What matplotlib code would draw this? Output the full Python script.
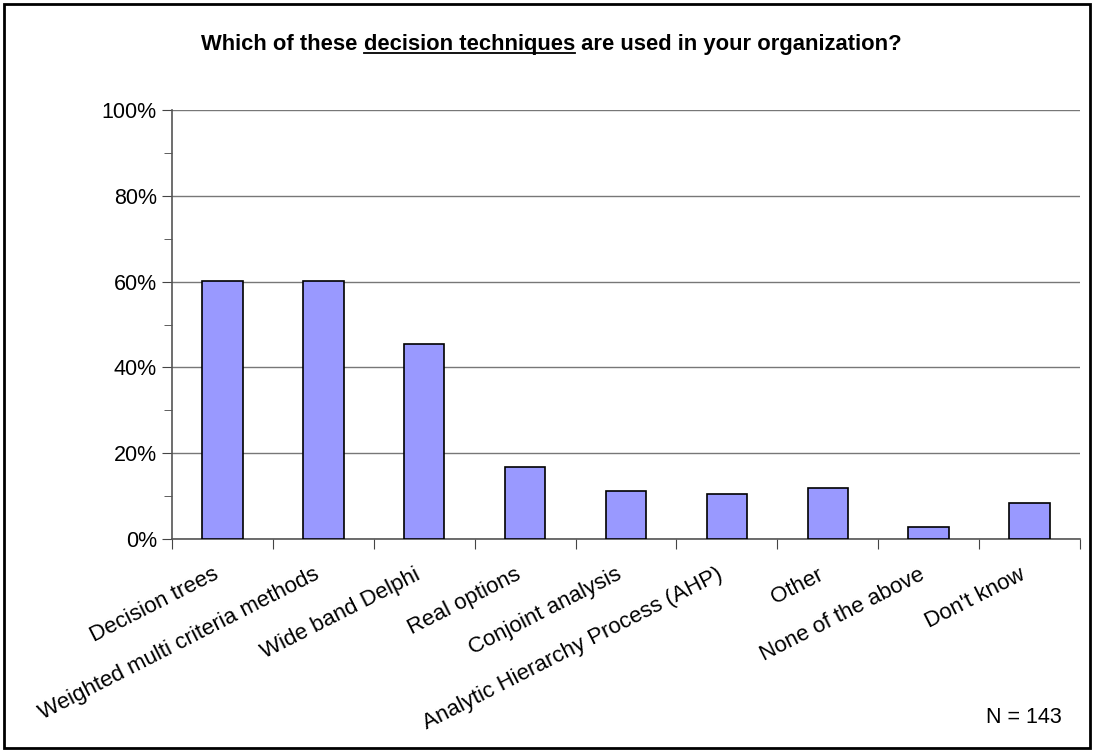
import matplotlib.pyplot as plt
from matplotlib.ticker import MultipleLocator, PercentFormatter
from matplotlib.patches import Rectangle
from matplotlib.lines import Line2D

plt.rcParams['font.family'] = ['Liberation Sans', 'DejaVu Sans']

categories = ["Decision trees", "Weighted multi criteria methods", "Wide band Delphi",
              "Real options", "Conjoint analysis", "Analytic Hierarchy Process (AHP)",
              "Other", "None of the above", "Don't know"]
shares = [60.1, 60.1, 45.5, 16.8, 11.2, 10.5, 11.9, 2.8, 8.4]
n_resp = 143

fig = plt.figure(figsize=(10.93, 7.5), dpi=100)
ax = fig.add_axes([0.1574, 0.2813, 0.8307, 0.572])

x = range(len(categories))
ax.bar(x, shares, width=0.4, color='#9999FF', edgecolor='black', linewidth=1.2, zorder=3)

ax.set_xlim(-0.5, len(categories) - 0.5)
ax.set_ylim(0, 100)
ax.yaxis.set_major_locator(MultipleLocator(20))
ax.yaxis.set_minor_locator(MultipleLocator(10))
ax.yaxis.set_major_formatter(PercentFormatter(decimals=0))
ax.grid(axis='y', which='major', color='#777777', linewidth=1.0, zorder=0)

# boundary ticks (major) and labels (minor, zero length, nudged a bit left)
ax.set_xticks([i + 0.5 for i in range(-1, len(categories))])
ax.set_xticklabels([])
ax.set_xticks([i - 0.1 for i in x], minor=True)
ax.set_xticklabels(categories, minor=True, rotation=27, ha='right',
                   rotation_mode='anchor', fontsize=16)
ax.tick_params(axis='x', which='minor', length=0, pad=18)
ax.tick_params(axis='x', which='major', length=7, color='#444444', direction='out')
ax.tick_params(axis='y', which='major', length=7, color='#444444', labelsize=15.5, pad=4)
ax.tick_params(axis='y', which='minor', length=6, color='#444444')

for side in ['top', 'right']:
    ax.spines[side].set_visible(False)
for side in ['left', 'bottom']:
    ax.spines[side].set_color('#555555')
    ax.spines[side].set_linewidth(1.2)

# title in three pieces, middle one underlined
tsize = 15.8
t1 = fig.text(201 / 1093, 1 - 50 / 750, "Which of these ", fontsize=tsize,
              fontweight='bold', ha='left', va='baseline')
t2 = fig.text(0, 0, "decision techniques", fontsize=tsize, fontweight='bold')
t3 = fig.text(0, 0, " are used in your organization?", fontsize=tsize, fontweight='bold')
fig.canvas.draw()
r = fig.canvas.get_renderer()
b1 = t1.get_window_extent(r)
t2.set_position((b1.x1 / fig.bbox.width, t1.get_position()[1]))
t2.set_va('baseline')
b2 = t2.get_window_extent(r)
t3.set_position((b2.x1 / fig.bbox.width, t1.get_position()[1]))
t3.set_va('baseline')
yb = t1.get_position()[1] - 3 / 750
fig.add_artist(Line2D([b2.x0 / fig.bbox.width, b2.x1 / fig.bbox.width], [yb, yb],
                      color='black', linewidth=1.3))

fig.text(1062 / 1093, 1 - 723 / 750, f"N = {n_resp}", fontsize=15.5, ha='right', va='baseline')

fig.add_artist(Rectangle((0.004, 0.003), 0.993, 0.992, transform=fig.transFigure,
                         fill=False, edgecolor='black', linewidth=2))

fig.savefig('out.png', dpi=100)
